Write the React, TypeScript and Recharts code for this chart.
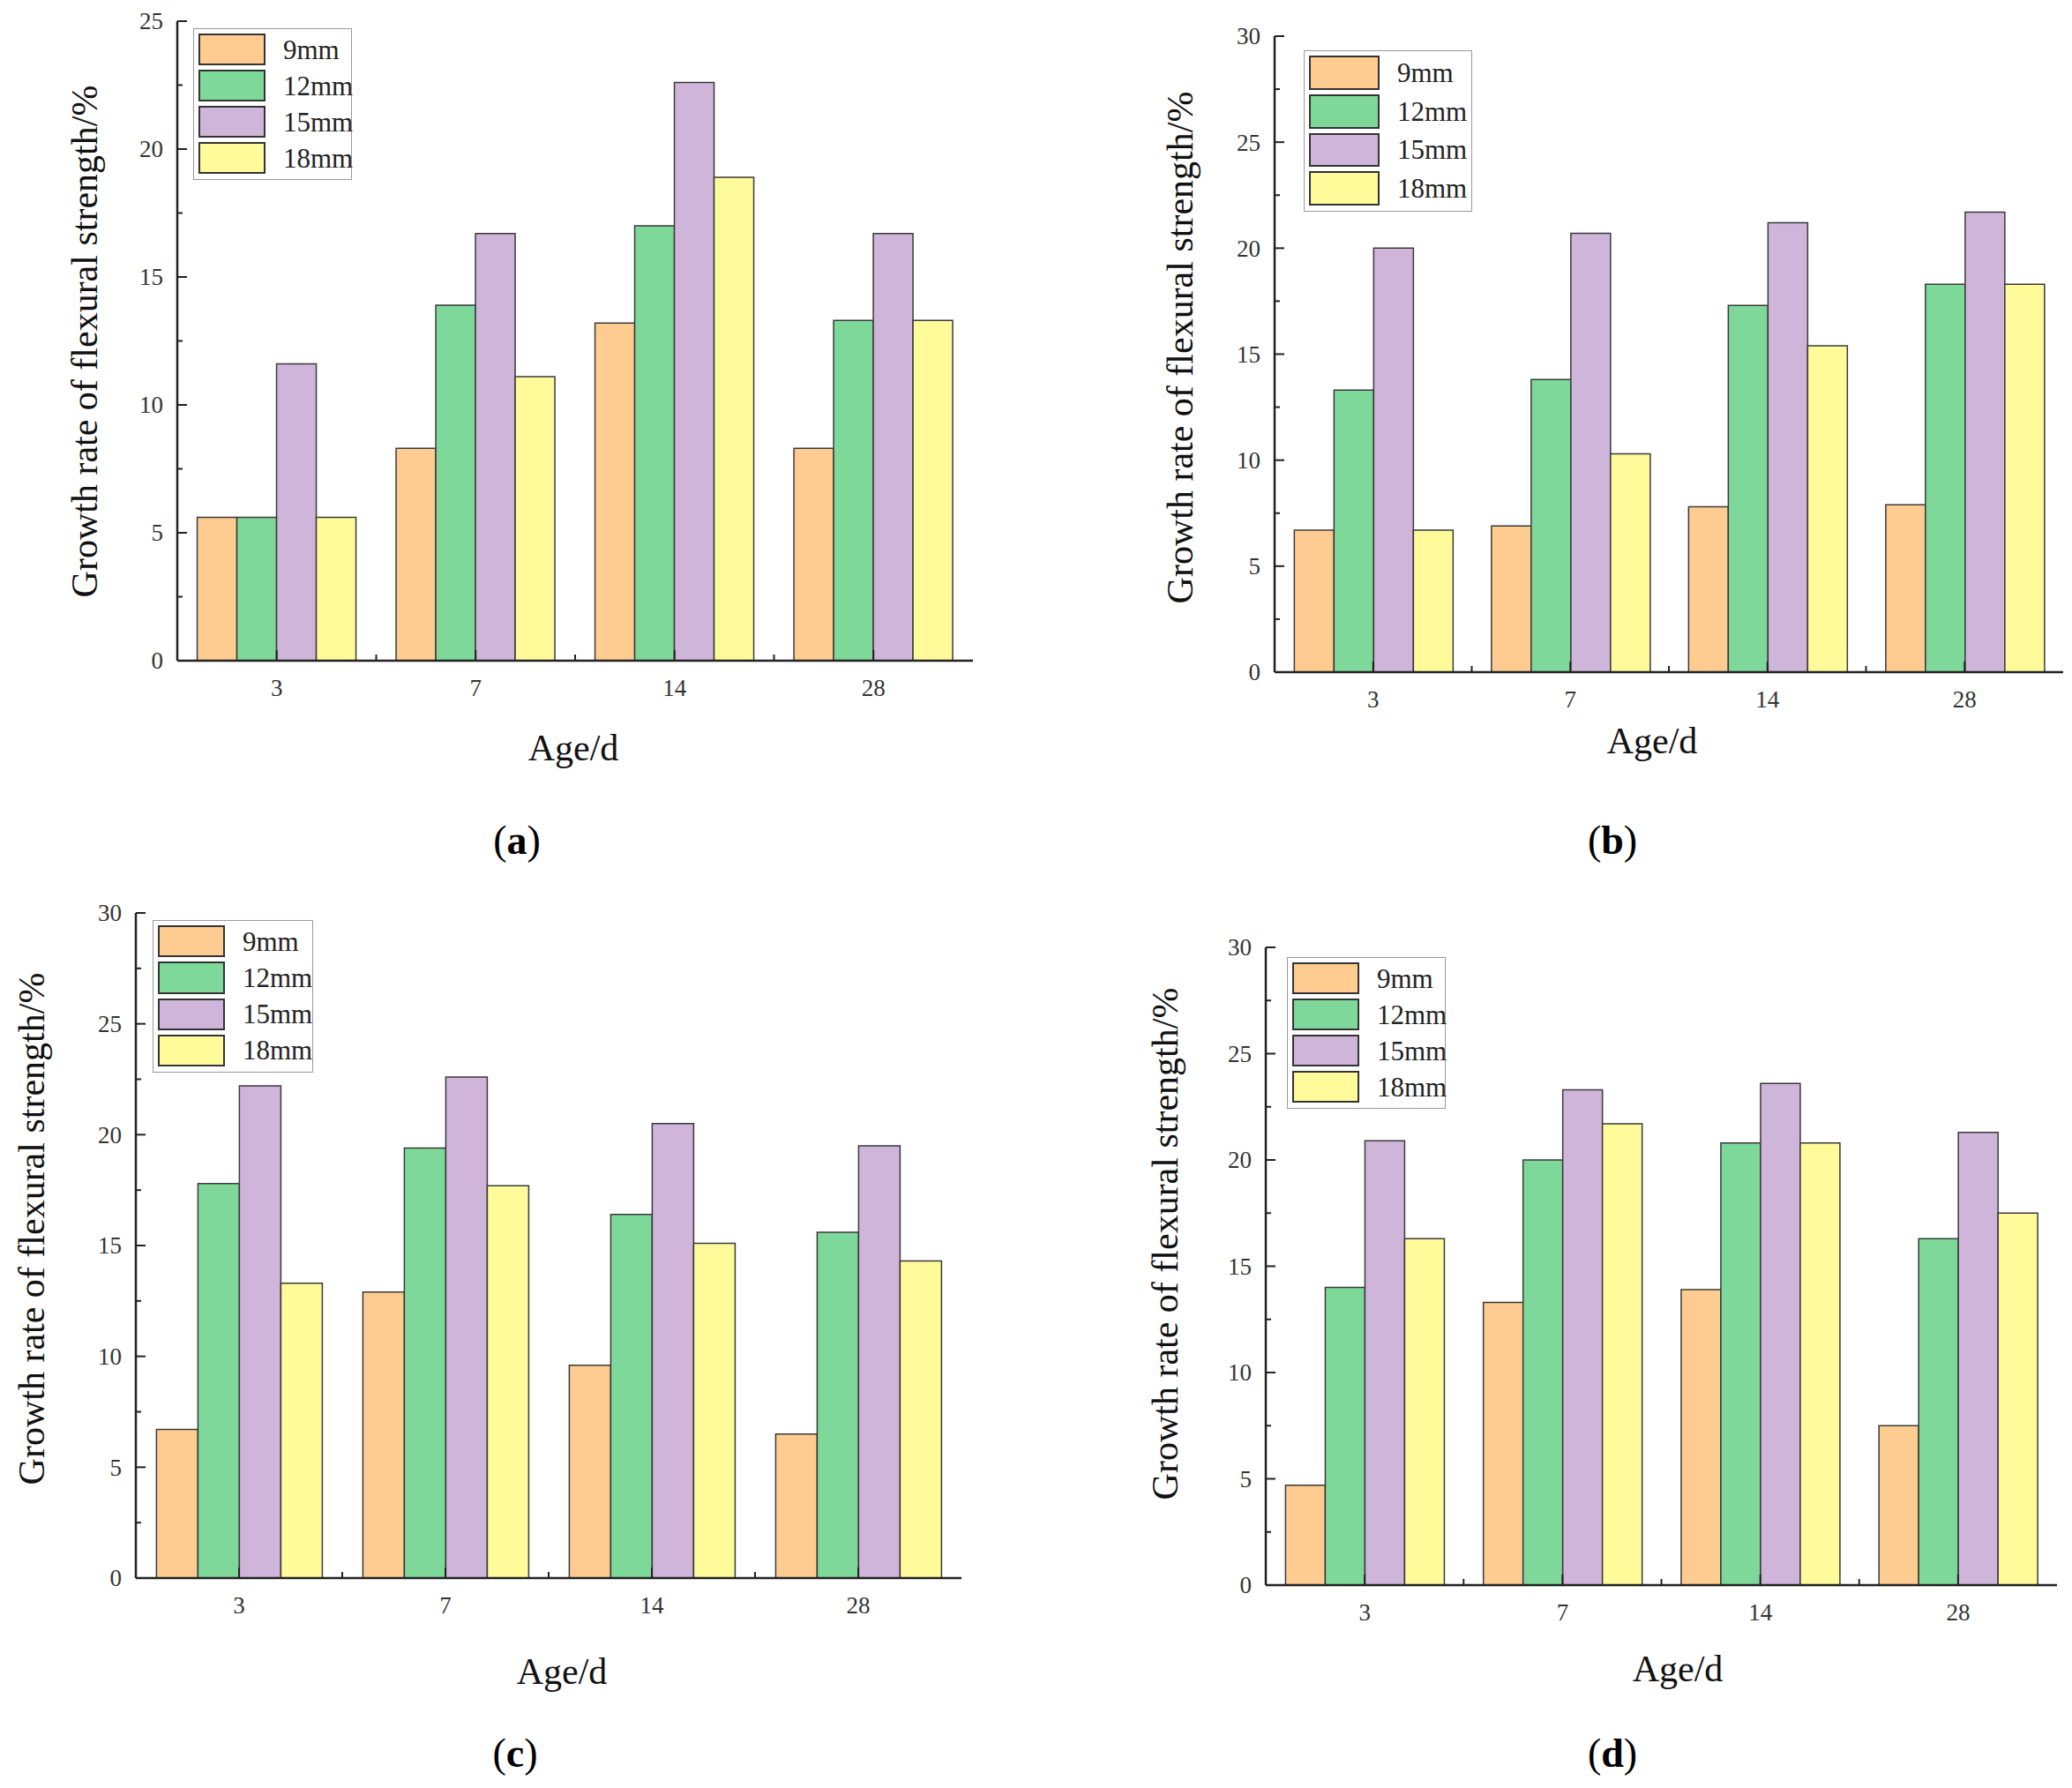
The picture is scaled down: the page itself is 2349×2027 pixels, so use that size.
import React from 'react'
import { BarChart, Bar, XAxis, YAxis, Legend } from 'recharts'

const ages = ['3', '7', '14', '28']
const seriesNames = ['9mm', '12mm', '15mm', '18mm']
const seriesColors = ['#FECC90', '#7ED89A', '#CFB5DA', '#FFFB9B']

// (a) growth rate of flexural strength, %
const a9mm = [5.6, 8.3, 13.2, 8.3]
const a12mm = [5.6, 13.9, 17.0, 13.3]
const a15mm = [11.6, 16.7, 22.6, 16.7]
const a18mm = [5.6, 11.1, 18.9, 13.3]

// (b)
const b9mm = [6.7, 6.9, 7.8, 7.9]
const b12mm = [13.3, 13.8, 17.3, 18.3]
const b15mm = [20.0, 20.7, 21.2, 21.7]
const b18mm = [6.7, 10.3, 15.4, 18.3]

// (c)
const c9mm = [6.7, 12.9, 9.6, 6.5]
const c12mm = [17.8, 19.4, 16.4, 15.6]
const c15mm = [22.2, 22.6, 20.5, 19.5]
const c18mm = [13.3, 17.7, 15.1, 14.3]

// (d)
const d9mm = [4.7, 13.3, 13.9, 7.5]
const d12mm = [14.0, 20.0, 20.8, 16.3]
const d15mm = [20.9, 23.3, 23.6, 21.3]
const d18mm = [16.3, 21.7, 20.8, 17.5]

const yTicks25 = [0, 2.5, 5, 7.5, 10, 12.5, 15, 17.5, 20, 22.5, 25]
const yTicks30 = [0, 2.5, 5, 7.5, 10, 12.5, 15, 17.5, 20, 22.5, 25, 27.5, 30]

const yTitle = 'Growth rate of flexural strength/%'
const xTitle = 'Age/d'

const serif = "'Liberation Serif', 'Times New Roman', serif"
const ink = '#222'

function rows(s9: number[], s12: number[], s15: number[], s18: number[]) {
  return ages.map((age, i) => ({
    age,
    '9mm': s9[i],
    '12mm': s12[i],
    '15mm': s15[i],
    '18mm': s18[i],
  }))
}

// room around the plot area inside each chart
const ML = 130
const MT = 20
const MR = 20
const MB = 90
const XH = 70

function YTick(props: any) {
  const { x, y, payload } = props
  const major = payload.value % 5 === 0
  return (
    <g>
      <line x1={x} x2={x + (major ? 11 : 6)} y1={y} y2={y} stroke={ink} strokeWidth={2} />
      {major && (
        <text x={x - 16} y={y} dy="0.35em" textAnchor="end" fontSize={27} fontFamily={serif} fill="#333">
          {payload.value}
        </text>
      )}
    </g>
  )
}

function XTick(props: any) {
  const { x, y, payload, index, bw } = props
  return (
    <g>
      <line x1={x} x2={x} y1={y} y2={y - 12} stroke={ink} strokeWidth={2} />
      {index < ages.length - 1 && (
        <line x1={x + bw / 2} x2={x + bw / 2} y1={y} y2={y - 7} stroke={ink} strokeWidth={2} />
      )}
      <text x={x} y={y + 31} dy="0.35em" textAnchor="middle" fontSize={27} fontFamily={serif} fill="#333">
        {payload.value}
      </text>
    </g>
  )
}

function LegendBox({ w, h, payload }: any) {
  const pitch = (h - 8) / 4
  const sw = Math.round(w * 0.42)
  const items = [...(payload || [])].sort(
    (p: any, q: any) => seriesNames.indexOf(p.value) - seriesNames.indexOf(q.value)
  )
  return (
    <div
      style={{
        width: w,
        height: h,
        border: '1.5px solid #9a9a9a',
        boxSizing: 'border-box',
        background: '#fff',
        position: 'relative',
      }}
    >
      {items.map((e: any, i: number) => (
        <div
          key={i}
          style={{
            position: 'absolute',
            left: 5,
            top: 5 + i * pitch,
            height: pitch - 5,
            display: 'flex',
            alignItems: 'center',
          }}
        >
          <div
            style={{
              width: sw,
              height: pitch - 5,
              background: e.color,
              border: '2px solid #333',
              boxSizing: 'border-box',
            }}
          />
          <span style={{ marginLeft: 20, fontSize: 31, fontFamily: serif, color: ink, lineHeight: 1 }}>
            {e.value}
          </span>
        </div>
      ))}
    </div>
  )
}

function Panel({ rect, data, yMax, ticks, legend, yPos, xPos, letter, letterPos }: any) {
  const w = rect.r - rect.l
  const h = rect.b - rect.t
  const bw = w / ages.length
  const frame = { stroke: ink, strokeWidth: 2.5 }
  return (
    <>
      <div style={{ position: 'absolute', left: rect.l - ML, top: rect.t - MT }}>
        <BarChart
          width={w + ML + MR}
          height={h + MT + MB}
          data={data}
          margin={{ top: MT, right: MR, bottom: MB - XH, left: 0 }}
          barCategoryGap="10%"
          barGap={0}
        >
          <XAxis
            dataKey="age"
            height={XH}
            interval={0}
            axisLine={frame}
            tickLine={false}
            tickSize={0}
            tickMargin={0}
            tick={<XTick bw={bw} />}
          />
          <XAxis xAxisId="top" dataKey="age" orientation="top" height={0} tick={false} tickLine={false} axisLine={frame} />
          <YAxis
            type="number"
            domain={[0, yMax]}
            ticks={ticks}
            interval={0}
            width={ML}
            axisLine={frame}
            tickLine={false}
            tickSize={0}
            tickMargin={0}
            tick={<YTick />}
          />
          <YAxis
            yAxisId="right"
            orientation="right"
            type="number"
            domain={[0, yMax]}
            width={0}
            tick={false}
            tickLine={false}
            axisLine={frame}
          />
          <Legend
            layout="vertical"
            align="center"
            verticalAlign="middle"
            wrapperStyle={{ left: ML + legend.x, top: MT + legend.y, width: legend.w, height: legend.h }}
            content={(p: any) => <LegendBox w={legend.w} h={legend.h} payload={p.payload} />}
          />
          {seriesNames.map((name, i) => (
            <Bar
              key={name}
              dataKey={name}
              name={name}
              fill={seriesColors[i]}
              stroke="#3a3a3a"
              strokeWidth={1.5}
              isAnimationActive={false}
            />
          ))}
        </BarChart>
      </div>
      <div
        style={{
          position: 'absolute',
          left: yPos[0],
          top: yPos[1],
          transform: 'translate(-50%, -50%) rotate(-90deg)',
          whiteSpace: 'nowrap',
          fontFamily: serif,
          fontSize: 42,
          color: '#111',
          lineHeight: 1,
        }}
      >
        {yTitle}
      </div>
      <div
        style={{
          position: 'absolute',
          left: xPos[0],
          top: xPos[1],
          transform: 'translate(-50%, -50%)',
          whiteSpace: 'nowrap',
          fontFamily: serif,
          fontSize: 42,
          color: '#111',
          lineHeight: 1,
        }}
      >
        {xTitle}
      </div>
      <div
        style={{
          position: 'absolute',
          left: letterPos[0],
          top: letterPos[1],
          transform: 'translate(-50%, -50%)',
          whiteSpace: 'nowrap',
          fontFamily: serif,
          fontSize: 46,
          color: '#000',
          lineHeight: 1,
        }}
      >
        (<b>{letter}</b>)
      </div>
    </>
  )
}

export default function App() {
  return (
    <div style={{ position: 'absolute', left: 0, top: 0, width: 2349, height: 2027, background: '#fff' }}>
      <Panel
        rect={{ l: 201, t: 24, r: 1103, b: 749 }}
        data={rows(a9mm, a12mm, a15mm, a18mm)}
        yMax={25}
        ticks={yTicks25}
        legend={{ x: 18, y: 8, w: 180, h: 172 }}
        yPos={[96, 387]}
        xPos={[650, 848]}
        letter="a"
        letterPos={[586, 953]}
      />
      <Panel
        rect={{ l: 1445, t: 41, r: 2339, b: 762 }}
        data={rows(b9mm, b12mm, b15mm, b18mm)}
        yMax={30}
        ticks={yTicks30}
        legend={{ x: 33, y: 16, w: 191, h: 183 }}
        yPos={[1338, 394]}
        xPos={[1873, 840]}
        letter="b"
        letterPos={[1828, 953]}
      />
      <Panel
        rect={{ l: 154, t: 1035, r: 1090, b: 1789 }}
        data={rows(c9mm, c12mm, c15mm, c18mm)}
        yMax={30}
        ticks={yTicks30}
        legend={{ x: 19, y: 8, w: 182, h: 173 }}
        yPos={[36, 1393]}
        xPos={[637, 1895]}
        letter="c"
        letterPos={[584, 1988]}
      />
      <Panel
        rect={{ l: 1435, t: 1074, r: 2332, b: 1797 }}
        data={rows(d9mm, d12mm, d15mm, d18mm)}
        yMax={30}
        ticks={yTicks30}
        legend={{ x: 24, y: 11, w: 180, h: 172 }}
        yPos={[1321, 1410]}
        xPos={[1902, 1892]}
        letter="d"
        letterPos={[1828, 1988]}
      />
    </div>
  )
}
